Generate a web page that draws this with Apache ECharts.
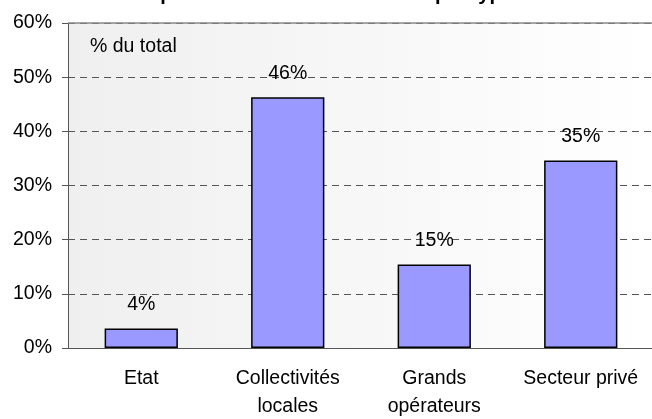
<!DOCTYPE html>
<html><head><meta charset="utf-8">
<script src="https://cdn.jsdelivr.net/npm/echarts@6/dist/echarts.min.js"></script>
<style>html,body{margin:0;padding:0;background:#fff}#c{width:652px;height:419px}</style>
</head><body><div id="c"></div>
<script>
const categories = ['Etat', 'Collectivités\nlocales', 'Grands\nopérateurs', 'Secteur privé'];
const values = [3.6, 46.3, 15.4, 34.6];
const valueLabels = ['4%', '46%', '15%', '35%'];
const yTicks = [0, 10, 20, 30, 40, 50, 60];

const font = 'Liberation Sans, Arial, sans-serif';
const chart = echarts.init(document.getElementById('c'));
chart.setOption({
  animation: false,
  backgroundColor: '#fff',
  title: {
    text: "Répartition de l'investissement par type d'acteur",
    left: 360, textAlign: 'center', top: -21,
    textStyle: {fontFamily: font, fontSize: 20, fontWeight: 'bold', color: '#000'}
  },
  grid: {
    left: 68, right: -2, top: 23, bottom: 71,
    outerBoundsMode: 'none', containLabel: false,
    show: true, borderWidth: 0,
    backgroundColor: {type: 'linear', x: 0, y: 0, x2: 1, y2: 0,
      colorStops: [{offset: 0, color: '#efefef'}, {offset: 1, color: '#ffffff'}]}
  },
  graphic: [{
    type: 'text', left: 90, top: 37,
    style: {text: '% du total', fontFamily: font, fontSize: 19.5, fill: '#000'}
  }],
  xAxis: {
    type: 'category', data: categories,
    axisLine: {lineStyle: {color: '#555', width: 1}},
    axisTick: {show: false},
    axisLabel: {fontFamily: font, fontSize: 19.5, color: '#000', margin: 17, lineHeight: 28, interval: 0}
  },
  yAxis: {
    type: 'value', min: 0, max: 60, interval: 10,
    axisLine: {show: true, lineStyle: {color: '#555', width: 1}},
    axisTick: {show: true, length: 6, lineStyle: {color: '#555'}},
    axisLabel: {fontFamily: font, fontSize: 19.5, color: '#000', margin: 16,
      formatter: v => yTicks.includes(v) ? v + '%' : ''},
    splitLine: {show: true, lineStyle: {color: '#555', type: [7, 5], width: 1}}
  },
  series: [{
    type: 'bar', data: values, barWidth: '50%',
    itemStyle: {color: '#9999ff', borderColor: '#000', borderWidth: 1.5},
    label: {show: true, position: 'top', distance: 14,
      formatter: p => valueLabels[p.dataIndex],
      fontFamily: font, fontSize: 19.5, color: '#000'},
    markLine: {silent: true, symbol: 'none', label: {show: false},
      lineStyle: {color: '#888', type: 'solid', width: 1.5},
      data: [{yAxis: 60}]},
    z: 3
  }]
});
</script></body></html>
